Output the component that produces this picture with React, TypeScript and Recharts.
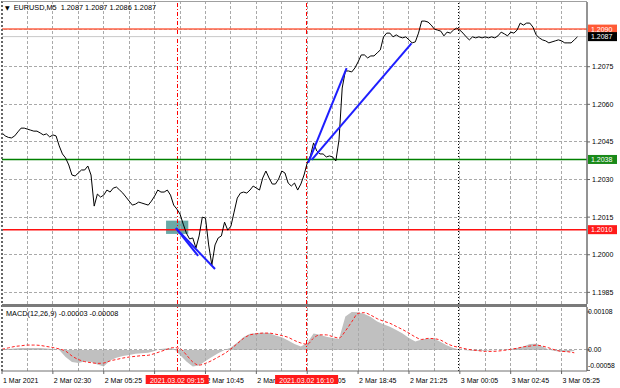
import {
  ComposedChart,
  Line,
  Area,
  XAxis,
  YAxis,
  ReferenceLine,
  ReferenceArea,
} from "recharts";

// EURUSD M5 closes, one value every 2 bars (10 min), left to right
const closes = [
  1.20486, 1.20474, 1.20468, 1.20466, 1.20474, 1.2049, 1.20505, 1.20505, 1.20501, 1.20497,
  1.20493, 1.20493, 1.20486, 1.20478, 1.20482, 1.2047, 1.20478, 1.20474, 1.20434, 1.20402,
  1.20386, 1.20358, 1.20318, 1.20314, 1.20326, 1.20338, 1.20338, 1.20354, 1.20318, 1.20194,
  1.20242, 1.2023, 1.20238, 1.20258, 1.2025, 1.20266, 1.2027, 1.20258, 1.20246, 1.2023,
  1.20214, 1.20198, 1.20202, 1.2021, 1.20206, 1.20202, 1.20198, 1.20214, 1.20234, 1.20258,
  1.2025, 1.2025, 1.20258, 1.20238, 1.20198, 1.20182, 1.20162, 1.20122, 1.20086, 1.20063,
  1.20067, 1.20027, 1.20075, 1.2015, 1.20146, 1.20039, 1.19959, 1.20039, 1.20067, 1.20075,
  1.2013, 1.20098, 1.20114, 1.2017, 1.20226, 1.20246, 1.2025, 1.20246, 1.20258, 1.20274,
  1.20266, 1.20258, 1.20306, 1.20334, 1.20306, 1.20282, 1.20282, 1.20302, 1.20334, 1.20326,
  1.20286, 1.20274, 1.20286, 1.20258, 1.20282, 1.20318, 1.20366, 1.20394, 1.20446, 1.20414,
  1.20402, 1.20402, 1.2039, 1.20394, 1.2039, 1.20374, 1.20458, 1.20665, 1.20733, 1.20733,
  1.20729, 1.20745, 1.20769, 1.20797, 1.20797, 1.20785, 1.20793, 1.20793, 1.20805, 1.20817,
  1.20869, 1.20884, 1.20884, 1.20869, 1.20877, 1.20869, 1.20865, 1.20869, 1.20857, 1.20845,
  1.20849, 1.20884, 1.20932, 1.20932, 1.20928, 1.20916, 1.209, 1.20896, 1.20892, 1.20873,
  1.20888, 1.20884, 1.20896, 1.20904, 1.20896, 1.20884, 1.20869, 1.20857, 1.20869, 1.20865,
  1.20869, 1.20865, 1.20869, 1.20865, 1.20869, 1.20865, 1.20873, 1.20888, 1.20881, 1.20873,
  1.20888, 1.20884, 1.20896, 1.20924, 1.20916, 1.20924, 1.20924, 1.20908, 1.20877, 1.20865,
  1.20857, 1.20853, 1.20845, 1.20849, 1.20853, 1.20857, 1.20853, 1.20845, 1.20845, 1.20845,
  1.20857, 1.20869,
];

// MACD(12,26,9), one value every 4 bars
const macdMain = [
  0.00003, 0.00003, 0.00004, 0.00006, 0.00006, 0.00006, 0.00006, 0.00004, 0.00003, 0,
  -0.0002, -0.00034, -0.00037, -0.00033, -0.00034, -0.00041, -0.00047, -0.0003, -0.00022, -0.00017,
  -0.00014, -0.00011, -0.00009, -0.00008, -0.00003, 0.00003, 0.00005, 0.00004, -0.00014, -0.00033,
  -0.00047, -0.00044, -0.00031, -0.0002, -0.00009, 0, 0.00007, 0.00021, 0.00037, 0.00046,
  0.00048, 0.00049, 0.00048, 0.00041, 0.00036, 0.00027, 0.00017, 0.0001, 0.0002, 0.00047,
  0.00043, 0.00038, 0.00034, 0.00031, 0.00095, 0.00108, 0.00107, 0.00102, 0.00094, 0.00081,
  0.00073, 0.00066, 0.00057, 0.00047, 0.00034, 0.00024, 0.0003, 0.00033, 0.00032, 0.00023,
  0.00013, 0.00006, 0.00001, -0.00001, -0.00002, -0.00002, -0.00002, -0.00001, 0, 0.00001,
  0.00003, 0.00006, 0.0001, 0.00017, 0.00018, 0.0001, 0.00001, -0.00003, -0.00005, -0.00005,
  -0.00003,
];
const macdSignal = [
  0.00002, 0.00006, 0.0001, 0.00012, 0.00014, 0.00014, 0.00013, 0.0001, 0.00007, 0.00003,
  -0.00003, -0.00017, -0.00027, -0.00033, -0.00036, -0.00038, -0.00037, -0.00031, -0.00027, -0.00023,
  -0.0002, -0.00018, -0.00016, -0.00015, -0.0001, -0.00004, 0.00002, 0.00007, 0.00004, -0.00014,
  -0.00034, -0.00043, -0.00038, -0.0003, -0.0002, -0.0001, 0.00003, 0.00018, 0.00033, 0.00043,
  0.00046, 0.00048, 0.00048, 0.00045, 0.00041, 0.00036, 0.00027, 0.0002, 0.00016, 0.00034,
  0.00043, 0.00043, 0.00038, 0.00034, 0.00054, 0.0008, 0.00104, 0.00106, 0.00099, 0.00089,
  0.00082, 0.00076, 0.00067, 0.00058, 0.00048, 0.00037, 0.0003, 0.00033, 0.00032, 0.00028,
  0.00018, 0.00011, 0.00007, 0.00003, 0, -0.00002, -0.00004, -0.00004, -0.00003, -0.00001,
  0.00002, 0.00005, 0.00009, 0.00011, 0.00014, 0.00011, 0.00006, 0, -0.00004, -0.00005,
  -0.00008,
];

const priceTicks = [1.1985, 1.2, 1.2015, 1.203, 1.2045, 1.206, 1.2075];
const gridPrices = [...priceTicks, 1.209];
const levelPrices = [1.209, 1.2087, 1.2038, 1.201];
const macdTicks = [0.00108, 0, -0.00058];

const timeLabels = [
  "1 Mar 2021", "2 Mar 02:30", "2 Mar 05:25", "2 Mar 08:05", "2 Mar 10:45", "2 Mar 13:25",
  "2 Mar 16:05", "2 Mar 18:45", "2 Mar 21:25", "3 Mar 00:05", "3 Mar 02:45", "3 Mar 05:25",
];
const markedIdx = [55.1, 95.8];
const markedText = ["2021.03.02 09:15", "2021.03.02 16:10"];
const dayBreakIdx = 143.5;

// trend lines drawn on the chart: [x1, y1, x2, y2]
const trendLines = [
  [54.7, 1.20106, 67, 1.19943],
  [54.7, 1.20106, 61.7, 1.19995],
  [96.3, 1.20366, 108.4, 1.20744],
  [97.4, 1.20378, 128.8, 1.20843],
];
const entryBox = { x1: 51.6, x2: 58.6, y1: 1.20083, y2: 1.20136 };

const LABEL_STEP = 16;
const GRID_STEP = 8;
const X_MAX = 184;

const levelColors = ["#ff6347", "#000000", "#008000", "#ff1010"];
const levelBoxColors = ["#ff5a36", "#000000", "#1a8a1a", "#ff1a1a"];
const gridColor = "#a9a9a9";
const font = "'Liberation Sans', Arial, sans-serif";

const priceData = closes.map((c, i) => ({ idx: i, close: c }));
const macdData = macdMain.map((m, i) => ({ idx: i * 2, main: m, signal: macdSignal[i] }));
const gridX = Array.from({ length: 22 }, (_, k) => (k + 1) * GRID_STEP);
const labelIdx = timeLabels.map((_, i) => i * LABEL_STEP);

const PriceTick = (props: any) => {
  const { x, y, payload } = props;
  const v: number = payload.value;
  const li = levelPrices.indexOf(v);
  if (li >= 0) {
    return (
      <g>
        <rect x={x - 4} y={y - 4.5} width={29} height={9} fill={levelBoxColors[li]} />
        <text x={x - 1} y={y} dy="0.35em" fontSize={7} fill="#fff" fontFamily={font}>
          {v.toFixed(4)}
        </text>
      </g>
    );
  }
  return (
    <g>
      <line x1={x - 5} x2={x - 2} y1={y} y2={y} stroke="#666" />
      <text x={x} y={y} dy="0.35em" fontSize={7} fill="#000" fontFamily={font}>
        {v.toFixed(4)}
      </text>
    </g>
  );
};

const MacdTick = (props: any) => {
  const { x, y, payload } = props;
  const v: number = payload.value;
  const text = v === 0 ? "0.00" : v.toFixed(5);
  const shift = v < 0 ? -5 : 0;
  return (
    <g>
      <line x1={x - 5} x2={x - 2} y1={y} y2={y} stroke="#666" />
      <text x={x - 4} y={y + shift} dy="0.35em" fontSize={6.8} fill="#000" fontFamily={font}>
        {text}
      </text>
    </g>
  );
};

const TimeTick = (props: any) => {
  const { x, y, payload } = props;
  const v: number = payload.value;
  const mi = markedIdx.indexOf(v);
  if (mi >= 0) {
    return (
      <g>
        <rect x={x - 31.5} y={y + 1} width={63} height={9} fill="#ff1a1a" />
        <text x={x} y={y + 8.5} textAnchor="middle" fontSize={7} fill="#fff" fontFamily={font}>
          {markedText[mi]}
        </text>
      </g>
    );
  }
  return (
    <g>
      <line x1={x} x2={x} y1={y - 3} y2={y} stroke="#666" />
      <text x={x + 1} y={y + 8.5} fontSize={7} fill="#000" fontFamily={font}>
        {timeLabels[Math.round(v / LABEL_STEP)]}
      </text>
    </g>
  );
};

const verticalGrid = gridX.map((gx) => (
  <ReferenceLine
    key={`vx${gx}`}
    x={gx}
    stroke={gridColor}
    strokeDasharray="3 2"
    shapeRendering="crispEdges"
  />
));

const markerLines = [
  ...markedIdx.map((mx) => (
    <ReferenceLine
      key={`m${mx}`}
      x={mx}
      stroke="#ff0000"
      strokeDasharray="4 2 1 2"
      shapeRendering="crispEdges"
    />
  )),
  <ReferenceLine
    key="day"
    x={dayBreakIdx}
    stroke="#000"
    strokeDasharray="1 2"
    shapeRendering="crispEdges"
  />,
];

export default function App() {
  return (
    <div
      style={{
        position: "absolute",
        left: 0,
        top: 0,
        width: 620,
        height: 388,
        background: "#fff",
        fontFamily: font,
        overflow: "hidden",
      }}
    >
      <div style={{ position: "absolute", left: 0, top: 0 }}>
        <ComposedChart
          width={620}
          height={304}
          data={priceData}
          margin={{ top: 2, right: 0, bottom: 0, left: 2 }}
        >
          <XAxis dataKey="idx" type="number" domain={[0, X_MAX]} allowDataOverflow hide />
          <YAxis
            orientation="right"
            width={33}
            type="number"
            domain={[1.198035, 1.210081]}
            allowDataOverflow
            ticks={[...priceTicks, ...levelPrices]}
            interval={0}
            tick={<PriceTick />}
            tickLine={false}
            tickSize={3}
            tickMargin={2}
            axisLine={{ stroke: "#707070", strokeWidth: 1.5 }}
          />
          {gridPrices.map((gp) => (
            <ReferenceLine
              key={`gy${gp}`}
              y={gp}
              stroke={gridColor}
              strokeDasharray="3 2"
              shapeRendering="crispEdges"
            />
          ))}
          {verticalGrid}
          {markerLines}
          <ReferenceLine y={levelPrices[1]} stroke="#c8c8c8" />
          <ReferenceLine y={levelPrices[0]} stroke={levelColors[0]} strokeWidth={1.5} />
          <ReferenceLine y={levelPrices[2]} stroke={levelColors[2]} strokeWidth={1.5} />
          <ReferenceLine y={levelPrices[3]} stroke={levelColors[3]} strokeWidth={1.5} />
          <Line
            type="linear"
            dataKey="close"
            stroke="#000"
            strokeWidth={1}
            dot={false}
            isAnimationActive={false}
          />
          <ReferenceArea
            x1={entryBox.x1}
            x2={entryBox.x2}
            y1={entryBox.y1}
            y2={entryBox.y2}
            fill="#4f9a96"
            fillOpacity={0.85}
            stroke="none"
          />
          {trendLines.map((t, i) => (
            <ReferenceLine
              key={`t${i}`}
              segment={[
                { x: t[0], y: t[1] },
                { x: t[2], y: t[3] },
              ]}
              stroke="#1e1eff"
              strokeWidth={2}
            />
          ))}
        </ComposedChart>
      </div>

      <div style={{ position: "absolute", left: 0, top: 307 }}>
        <ComposedChart
          width={620}
          height={81}
          data={macdData}
          margin={{ top: 0, right: 0, bottom: 0, left: 2 }}
        >
          <XAxis
            dataKey="idx"
            type="number"
            domain={[0, X_MAX]}
            allowDataOverflow
            ticks={[...labelIdx, ...markedIdx]}
            interval={0}
            height={17}
            tick={<TimeTick />}
            tickLine={false}
            tickSize={3}
            tickMargin={0}
            axisLine={{ stroke: "#707070" }}
          />
          <YAxis
            orientation="right"
            width={33}
            type="number"
            domain={[-0.000597, 0.001222]}
            allowDataOverflow
            ticks={macdTicks}
            interval={0}
            tick={<MacdTick />}
            tickLine={false}
            tickSize={3}
            tickMargin={2}
            axisLine={{ stroke: "#707070", strokeWidth: 1.5 }}
          />
          {verticalGrid}
          <ReferenceLine y={0} stroke={gridColor} strokeDasharray="3 2" shapeRendering="crispEdges" />
          <Area
            type="linear"
            dataKey="main"
            baseValue={0}
            stroke="none"
            fill="#c0c0c0"
            fillOpacity={1}
            isAnimationActive={false}
          />
          <Line
            type="monotone"
            dataKey="signal"
            stroke="#ff2020"
            strokeWidth={1}
            strokeDasharray="3 2"
            dot={false}
            isAnimationActive={false}
          />
          {markerLines}
        </ComposedChart>
      </div>

      {/* frame and panel separator */}
      <div
        style={{
          position: "absolute",
          left: 1,
          top: 1,
          width: 586,
          height: 370,
          borderLeft: "2px dotted #666",
          borderTop: "1px solid #a0a0a0",
          boxSizing: "border-box",
          pointerEvents: "none",
        }}
      />
      <div
        style={{
          position: "absolute",
          left: 2,
          top: 304,
          width: 585,
          height: 3,
          background: "#7a7a7a",
        }}
      />

      <div
        style={{
          position: "absolute",
          left: 5,
          top: 3,
          fontSize: 7.3,
          lineHeight: "9px",
          color: "#000",
          whiteSpace: "pre",
        }}
      >
        <span style={{ fontFamily: "'DejaVu Sans'", fontSize: 6 }}>▼</span>
        {"  EURUSD,M5  1.2087 1.2087 1.2086 1.2087"}
      </div>
      <div
        style={{
          position: "absolute",
          left: 6,
          top: 309,
          fontSize: 7.3,
          lineHeight: "9px",
          color: "#000",
          whiteSpace: "pre",
        }}
      >
        {"MACD(12,26,9) -0.00003 -0.00008"}
      </div>
    </div>
  );
}
